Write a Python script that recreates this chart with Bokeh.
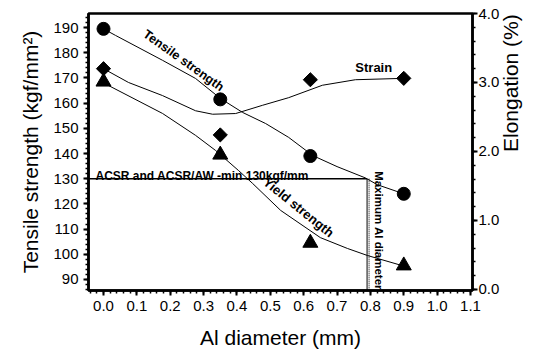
import math
from bokeh.plotting import figure
from bokeh.models import (Range1d, LinearAxis, SingleIntervalTicker,
                          PrintfTickFormatter, Label)
from bokeh.embed import file_html
from bokeh.resources import INLINE

# measured points
diameter = [0.0, 0.35, 0.62, 0.9]
tensile = [189.5, 161.5, 139.0, 124.0]
yield_strength = [168.5, 139.5, 104.5, 95.5]
strain = [3.20, 2.24, 3.04, 3.06]

# fitted curves
tensile_fit_x = [0.0, 0.036, 0.177, 0.276, 0.351, 0.417, 0.486, 0.555, 0.627, 0.70, 0.785, 0.821, 0.9]
tensile_fit_y = [189.5, 186.9, 177.0, 169.8, 161.8, 156.3, 151.9, 146.4, 139.2, 134.8, 130.3, 127.6, 124.0]

yield_fit_x = [0.0, 0.015, 0.177, 0.276, 0.336, 0.405, 0.447, 0.531, 0.650, 0.731, 0.791, 0.9]
yield_fit_y = [168.5, 167.0, 155.9, 147.2, 141.2, 133.2, 128.1, 117.4, 106.6, 102.3, 99.5, 95.3]

strain_fit_x = [0.0, 0.075, 0.177, 0.276, 0.327, 0.396, 0.477, 0.555, 0.656, 0.755, 0.9]
strain_fit_y = [3.20, 3.00, 2.81, 2.59, 2.54, 2.55, 2.67, 2.78, 2.96, 3.04, 3.06]

min_strength = 130.0
max_diameter = 0.79

x_ticks_interval = 0.1
left_ticks_interval = 10
right_ticks_interval = 1.0

p = figure(width=548, height=351, output_backend="svg", toolbar_location=None,
           x_range=Range1d(-0.045, 1.106), y_range=Range1d(85.6, 195.6),
           min_border_left=88, min_border_right=76, min_border_top=13,
           min_border_bottom=61)
p.extra_y_ranges = {"el": Range1d(-0.015, 4.0)}
p.xgrid.visible = False
p.ygrid.visible = False
p.outline_line_color = "black"
p.outline_line_width = 2.5
p.background_fill_color = "white"
p.border_fill_color = "white"

label_font = "Liberation Sans"


def style_axis(ax):
    ax.axis_line_width = 2.5
    ax.axis_line_color = "black"
    ax.major_tick_line_width = 2
    ax.minor_tick_line_width = 1.5
    ax.major_tick_out = 5
    ax.major_tick_in = 0
    ax.minor_tick_out = 3
    ax.minor_tick_in = 0
    ax.major_label_text_font = label_font
    ax.major_label_text_font_size = "15px"
    ax.major_label_text_color = "black"
    ax.axis_label_text_font = label_font
    ax.axis_label_text_font_size = "21px"
    ax.axis_label_text_font_style = "normal"
    ax.axis_label_text_color = "black"
    ax.major_label_standoff = 5
    ax.axis_label_standoff = 8
    ax.formatter = PrintfTickFormatter(format="%.1f")


xa = p.xaxis[0]
xa.ticker = SingleIntervalTicker(interval=x_ticks_interval, num_minor_ticks=5)
style_axis(xa)
xa.axis_label = "Al diameter (mm)"
xa.axis_label_standoff = 12

ya = p.yaxis[0]
ya.ticker = SingleIntervalTicker(interval=left_ticks_interval, num_minor_ticks=5)
style_axis(ya)
ya.formatter = PrintfTickFormatter(format="%d")
ya.axis_label = "Tensile strength (kgf/mm²)"

ra = LinearAxis(y_range_name="el",
                ticker=SingleIntervalTicker(interval=right_ticks_interval, num_minor_ticks=5))
style_axis(ra)
ra.major_label_standoff = 1
ra.axis_label = "Elongation (%)"
if "axis_label_orientation" in ra.properties():
    ra.axis_label_orientation = math.pi / 2
p.add_layout(ra, "right")

# threshold lines
p.segment(x0=[-0.045], y0=[min_strength], x1=[max_diameter], y1=[min_strength],
          line_color="black", line_width=1.5)
p.segment(x0=[max_diameter], y0=[min_strength], x1=[max_diameter], y1=[85.6],
          line_color="black", line_width=1)
p.segment(x0=[max_diameter + 0.006], y0=[min_strength], x1=[max_diameter + 0.006], y1=[85.6],
          line_color="black", line_width=1, line_dash="1 1")

# curves
p.line(tensile_fit_x, tensile_fit_y, line_color="black", line_width=1)
p.line(yield_fit_x, yield_fit_y, line_color="black", line_width=1)
p.line(strain_fit_x, strain_fit_y, line_color="black", line_width=1, y_range_name="el")

# markers
p.scatter(diameter, tensile, marker="circle", size=13, color="black")
p.scatter(diameter, yield_strength, marker="triangle", size=15, color="black")
p.scatter(diameter, strain, marker="square", size=10, angle=math.pi / 4,
          color="black", y_range_name="el")


def ann(x, y, text, angle=0.0, size="12px", align="center", baseline="middle"):
    p.add_layout(Label(x=x, y=y, text=text, angle=angle, text_font="Liberation Sans",
                       text_font_style="bold", text_font_size=size, text_color="black",
                       text_align=align, text_baseline=baseline))


ann(0.24, 176.9, "Tensile strength", angle=-0.62, size="12.5px")
ann(0.585, 118.6, "Yield strength", angle=-0.68, size="13px")
ann(0.81, 174.2, "Strain", size="13px")
ann(0.827, 109.4, "Maximum Al diameter", angle=-math.pi / 2, size="11.5px")
ann(-0.024, 131.0, "ACSR and ACSR/AW -min 130kgf/mm", size="12px", align="left",
    baseline="alphabetic")

open("out.html", "w").write(file_html(p, INLINE))
